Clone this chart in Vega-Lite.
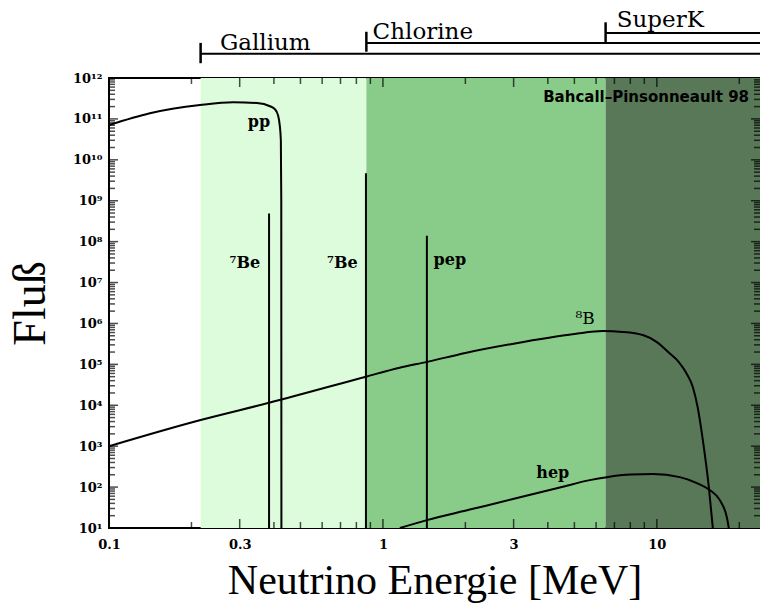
{
  "$schema": "https://vega.github.io/schema/vega-lite/v6.json",
  "width": 651,
  "height": 450,
  "autosize": {"type": "none"},
  "padding": {"left": 109, "top": 78, "right": 0, "bottom": 82},
  "background": "white",
  "config": {
    "view": {"stroke": "black", "strokeWidth": 2},
    "axis": {
      "domain": false,
      "grid": false,
      "ticks": false,
      "tickSize": 0,
      "labelFont": "DejaVu Serif",
      "labelFontWeight": "bold",
      "labelFontSize": 13,
      "labelColor": "black",
      "titleFont": "Liberation Serif",
      "titleFontWeight": "normal",
      "titleColor": "black"
    }
  },
  "datasets": {
    "zones": [
      {"zone": "Gallium", "from": 0.216, "to": 0.87},
      {"zone": "Chlorine", "from": 0.87, "to": 6.5},
      {"zone": "SuperK", "from": 6.5, "to": 23.8}
    ],
    "xticks": [
      {"v": 0.2, "kind": "minor"}, {"v": 0.3, "kind": "major"}, {"v": 0.4, "kind": "minor"}, {"v": 0.5, "kind": "minor"},
      {"v": 0.6, "kind": "minor"}, {"v": 0.7, "kind": "minor"}, {"v": 0.8, "kind": "minor"}, {"v": 0.9, "kind": "minor"},
      {"v": 1, "kind": "major"}, {"v": 2, "kind": "minor"}, {"v": 3, "kind": "major"}, {"v": 4, "kind": "minor"},
      {"v": 5, "kind": "minor"}, {"v": 6, "kind": "minor"}, {"v": 7, "kind": "minor"}, {"v": 8, "kind": "minor"},
      {"v": 9, "kind": "minor"}, {"v": 10, "kind": "major"}, {"v": 20, "kind": "minor"}
    ],
    "yticks": [
      {"v": 20, "kind": "minor"}, {"v": 30, "kind": "minor"}, {"v": 40, "kind": "minor"}, {"v": 50, "kind": "minor"}, {"v": 60, "kind": "minor"}, {"v": 70, "kind": "minor"}, {"v": 80, "kind": "minor"}, {"v": 90, "kind": "minor"},
      {"v": 100, "kind": "major"}, {"v": 200, "kind": "minor"}, {"v": 300, "kind": "minor"}, {"v": 400, "kind": "minor"}, {"v": 500, "kind": "minor"}, {"v": 600, "kind": "minor"}, {"v": 700, "kind": "minor"}, {"v": 800, "kind": "minor"}, {"v": 900, "kind": "minor"},
      {"v": 1e3, "kind": "major"}, {"v": 2e3, "kind": "minor"}, {"v": 3e3, "kind": "minor"}, {"v": 4e3, "kind": "minor"}, {"v": 5e3, "kind": "minor"}, {"v": 6e3, "kind": "minor"}, {"v": 7e3, "kind": "minor"}, {"v": 8e3, "kind": "minor"}, {"v": 9e3, "kind": "minor"},
      {"v": 1e4, "kind": "major"}, {"v": 2e4, "kind": "minor"}, {"v": 3e4, "kind": "minor"}, {"v": 4e4, "kind": "minor"}, {"v": 5e4, "kind": "minor"}, {"v": 6e4, "kind": "minor"}, {"v": 7e4, "kind": "minor"}, {"v": 8e4, "kind": "minor"}, {"v": 9e4, "kind": "minor"},
      {"v": 1e5, "kind": "major"}, {"v": 2e5, "kind": "minor"}, {"v": 3e5, "kind": "minor"}, {"v": 4e5, "kind": "minor"}, {"v": 5e5, "kind": "minor"}, {"v": 6e5, "kind": "minor"}, {"v": 7e5, "kind": "minor"}, {"v": 8e5, "kind": "minor"}, {"v": 9e5, "kind": "minor"},
      {"v": 1e6, "kind": "major"}, {"v": 2e6, "kind": "minor"}, {"v": 3e6, "kind": "minor"}, {"v": 4e6, "kind": "minor"}, {"v": 5e6, "kind": "minor"}, {"v": 6e6, "kind": "minor"}, {"v": 7e6, "kind": "minor"}, {"v": 8e6, "kind": "minor"}, {"v": 9e6, "kind": "minor"},
      {"v": 1e7, "kind": "major"}, {"v": 2e7, "kind": "minor"}, {"v": 3e7, "kind": "minor"}, {"v": 4e7, "kind": "minor"}, {"v": 5e7, "kind": "minor"}, {"v": 6e7, "kind": "minor"}, {"v": 7e7, "kind": "minor"}, {"v": 8e7, "kind": "minor"}, {"v": 9e7, "kind": "minor"},
      {"v": 1e8, "kind": "major"}, {"v": 2e8, "kind": "minor"}, {"v": 3e8, "kind": "minor"}, {"v": 4e8, "kind": "minor"}, {"v": 5e8, "kind": "minor"}, {"v": 6e8, "kind": "minor"}, {"v": 7e8, "kind": "minor"}, {"v": 8e8, "kind": "minor"}, {"v": 9e8, "kind": "minor"},
      {"v": 1e9, "kind": "major"}, {"v": 2e9, "kind": "minor"}, {"v": 3e9, "kind": "minor"}, {"v": 4e9, "kind": "minor"}, {"v": 5e9, "kind": "minor"}, {"v": 6e9, "kind": "minor"}, {"v": 7e9, "kind": "minor"}, {"v": 8e9, "kind": "minor"}, {"v": 9e9, "kind": "minor"},
      {"v": 1e10, "kind": "major"}, {"v": 2e10, "kind": "minor"}, {"v": 3e10, "kind": "minor"}, {"v": 4e10, "kind": "minor"}, {"v": 5e10, "kind": "minor"}, {"v": 6e10, "kind": "minor"}, {"v": 7e10, "kind": "minor"}, {"v": 8e10, "kind": "minor"}, {"v": 9e10, "kind": "minor"},
      {"v": 1e11, "kind": "major"}, {"v": 2e11, "kind": "minor"}, {"v": 3e11, "kind": "minor"}, {"v": 4e11, "kind": "minor"}, {"v": 5e11, "kind": "minor"}, {"v": 6e11, "kind": "minor"}, {"v": 7e11, "kind": "minor"}, {"v": 8e11, "kind": "minor"}, {"v": 9e11, "kind": "minor"}
    ],
    "curves": [
      {"src": "pp", "E": 0.1, "flux": 7.08e10},
      {"src": "pp", "E": 0.141, "flux": 1.38e11},
      {"src": "pp", "E": 0.215, "flux": 2.19e11},
      {"src": "pp", "E": 0.284, "flux": 2.57e11},
      {"src": "pp", "E": 0.347, "flux": 2.45e11},
      {"src": "pp", "E": 0.387, "flux": 2.04e11},
      {"src": "pp", "E": 0.403, "flux": 1.74e11},
      {"src": "pp", "E": 0.414, "flux": 1.23e11},
      {"src": "pp", "E": 0.42, "flux": 7.08e10},
      {"src": "pp", "E": 0.424, "flux": 3.0e10},
      {"src": "pp", "E": 0.4255, "flux": 1e9},
      {"src": "pp", "E": 0.426, "flux": 10},
      {"src": "8B", "E": 0.1, "flux": 1.0e3},
      {"src": "8B", "E": 0.216, "flux": 4.37e3},
      {"src": "8B", "E": 0.384, "flux": 1.15e4},
      {"src": "8B", "E": 0.867, "flux": 5.0e4},
      {"src": "8B", "E": 1.15, "flux": 8.3e4},
      {"src": "8B", "E": 1.45, "flux": 1.15e5},
      {"src": "8B", "E": 2.0, "flux": 1.9e5},
      {"src": "8B", "E": 3.0, "flux": 3.2e5},
      {"src": "8B", "E": 5.0, "flux": 5.5e5},
      {"src": "8B", "E": 6.35, "flux": 6.5e5},
      {"src": "8B", "E": 7.5, "flux": 6.2e5},
      {"src": "8B", "E": 8.89, "flux": 5.2e5},
      {"src": "8B", "E": 10.0, "flux": 3.5e5},
      {"src": "8B", "E": 11.1, "flux": 1.89e5},
      {"src": "8B", "E": 12.03, "flux": 1.14e5},
      {"src": "8B", "E": 12.87, "flux": 5.8e4},
      {"src": "8B", "E": 13.53, "flux": 2.79e4},
      {"src": "8B", "E": 14.11, "flux": 8.55e3},
      {"src": "8B", "E": 14.72, "flux": 1.41e3},
      {"src": "8B", "E": 15.48, "flux": 100},
      {"src": "8B", "E": 16.01, "flux": 10},
      {"src": "hep", "E": 1.153, "flux": 10},
      {"src": "hep", "E": 1.447, "flux": 15.6},
      {"src": "hep", "E": 2.077, "flux": 28.2},
      {"src": "hep", "E": 2.982, "flux": 50.9},
      {"src": "hep", "E": 4.426, "flux": 97.7},
      {"src": "hep", "E": 5.69, "flux": 148},
      {"src": "hep", "E": 6.57, "flux": 175},
      {"src": "hep", "E": 8.04, "flux": 202},
      {"src": "hep", "E": 9.67, "flux": 208},
      {"src": "hep", "E": 12.13, "flux": 175},
      {"src": "hep", "E": 14.0, "flux": 125},
      {"src": "hep", "E": 15.6, "flux": 84.5},
      {"src": "hep", "E": 16.98, "flux": 48},
      {"src": "hep", "E": 18.0, "flux": 18.5},
      {"src": "hep", "E": 18.31, "flux": 10}
    ],
    "lines": [
      {"src": "7Be 0.38", "E": 0.384, "lo": 10, "hi": 4.9e8},
      {"src": "7Be 0.86", "E": 0.867, "lo": 10, "hi": 4.7e9},
      {"src": "pep", "E": 1.447, "lo": 10, "hi": 1.4e8}
    ],
    "boldLabels": [
      {"text": "pp", "E": 0.353, "flux": 8.3e10},
      {"text": "⁷Be", "E": 0.313, "flux": 2.95e7},
      {"text": "⁷Be", "E": 0.711, "flux": 2.95e7},
      {"text": "pep", "E": 1.756, "flux": 3.5e7},
      {"text": "hep", "E": 4.17, "flux": 220}
    ],
    "plainLabels": [
      {"text": "⁸B", "E": 5.47, "flux": 1.32e6}
    ],
    "credit": [
      {"text": "Bahcall–Pinsonneault 98", "E": 21.7, "flux": 3.4e11}
    ],
    "brackets": [
      {"name": "Gallium", "start": 0.216, "end": 23.8, "line": 3.9e12, "lo": 2.3e12, "hi": 7.2e12, "labelE": 0.254, "labelY": 7.2e12},
      {"name": "Chlorine", "start": 0.87, "end": 23.8, "line": 7.2e12, "lo": 4.4e12, "hi": 1.35e13, "labelE": 0.917, "labelY": 1.35e13},
      {"name": "SuperK", "start": 6.5, "end": 23.8, "line": 1.26e13, "lo": 7.6e12, "hi": 2.3e13, "labelE": 7.14, "labelY": 2.6e13}
    ]
  },
  "layer": [
    {
      "data": {"name": "zones"},
      "mark": {"type": "rect"},
      "encoding": {
        "x": {
          "field": "from", "type": "quantitative",
          "scale": {"type": "log", "domain": [0.1, 23.8], "nice": false, "zero": false},
          "axis": {
            "orient": "bottom",
            "title": "Neutrino Energie [MeV]",
            "titleFontSize": 42,
            "titleFontWeight": "normal",
            "titlePadding": 9,
            "values": [0.1, 0.3, 1, 3, 10],
            "format": "~g",
            "labelPadding": 10,
            "labelFlush": false,
            "labelOverlap": false
          }
        },
        "x2": {"field": "to"},
        "color": {
          "field": "zone", "type": "nominal",
          "scale": {"domain": ["Gallium", "Chlorine", "SuperK"], "range": ["#dcfcdc", "#89cc89", "#587858"]},
          "legend": null
        }
      }
    },
    {
      "data": {"name": "lines"},
      "mark": {"type": "rule", "color": "black", "strokeWidth": 2},
      "encoding": {
        "x": {"field": "E", "type": "quantitative"},
        "y": {
          "field": "lo", "type": "quantitative",
          "scale": {"type": "log", "domain": [10, 1e12], "nice": false, "zero": false},
          "axis": {
            "orient": "left",
            "title": "Fluß",
            "titleFontSize": 46,
            "titleFontWeight": "normal",
            "titlePadding": 18,
            "values": [10, 100, 1e3, 1e4, 1e5, 1e6, 1e7, 1e8, 1e9, 1e10, 1e11, 1e12],
            "labelExpr": "['10⁰','10¹','10²','10³','10⁴','10⁵','10⁶','10⁷','10⁸','10⁹','10¹⁰','10¹¹','10¹²'][round(log(datum.value)/LN10)]",
            "labelPadding": 7,
            "labelOverlap": false,
            "labelFlush": false
          }
        },
        "y2": {"field": "hi"}
      }
    },
    {
      "data": {"name": "curves"},
      "mark": {"type": "line", "color": "black", "strokeWidth": 2, "interpolate": "monotone"},
      "encoding": {
        "x": {"field": "E", "type": "quantitative"},
        "y": {"field": "flux", "type": "quantitative"},
        "detail": {"field": "src", "type": "nominal"}
      }
    },
    {
      "data": {"name": "xticks"},
      "mark": {"type": "tick", "orient": "vertical", "color": "black", "thickness": 1.5, "clip": true},
      "encoding": {
        "x": {"field": "v", "type": "quantitative"},
        "y": {"datum": 10, "type": "quantitative"},
        "size": {"field": "kind", "type": "nominal", "scale": {"domain": ["major", "minor"], "range": [18, 12]}, "legend": null}
      }
    },
    {
      "data": {"name": "xticks"},
      "mark": {"type": "tick", "orient": "vertical", "color": "black", "thickness": 1.5, "clip": true},
      "encoding": {
        "x": {"field": "v", "type": "quantitative"},
        "y": {"datum": 1e12, "type": "quantitative"},
        "size": {"field": "kind", "type": "nominal", "scale": {"domain": ["major", "minor"], "range": [18, 12]}, "legend": null}
      }
    },
    {
      "data": {"name": "yticks"},
      "mark": {"type": "tick", "orient": "horizontal", "color": "black", "thickness": 1.5, "clip": true},
      "encoding": {
        "y": {"field": "v", "type": "quantitative"},
        "x": {"datum": 0.1, "type": "quantitative"},
        "size": {"field": "kind", "type": "nominal", "scale": {"domain": ["major", "minor"], "range": [18, 10]}, "legend": null}
      }
    },
    {
      "data": {"name": "yticks"},
      "mark": {"type": "tick", "orient": "horizontal", "color": "black", "thickness": 1.5, "clip": true},
      "encoding": {
        "y": {"field": "v", "type": "quantitative"},
        "x": {"datum": 23.8, "type": "quantitative"},
        "size": {"field": "kind", "type": "nominal", "scale": {"domain": ["major", "minor"], "range": [18, 10]}, "legend": null}
      }
    },
    {
      "data": {"name": "boldLabels"},
      "mark": {"type": "text", "font": "DejaVu Serif", "fontWeight": "bold", "fontSize": 16, "color": "black", "align": "center", "baseline": "middle"},
      "encoding": {
        "x": {"field": "E", "type": "quantitative"},
        "y": {"field": "flux", "type": "quantitative"},
        "text": {"field": "text"}
      }
    },
    {
      "data": {"name": "plainLabels"},
      "mark": {"type": "text", "font": "DejaVu Serif", "fontSize": 17, "color": "black", "align": "center", "baseline": "middle"},
      "encoding": {
        "x": {"field": "E", "type": "quantitative"},
        "y": {"field": "flux", "type": "quantitative"},
        "text": {"field": "text"}
      }
    },
    {
      "data": {"name": "credit"},
      "mark": {"type": "text", "font": "DejaVu Sans", "fontWeight": "bold", "fontSize": 15, "color": "black", "align": "right", "baseline": "middle"},
      "encoding": {
        "x": {"field": "E", "type": "quantitative"},
        "y": {"field": "flux", "type": "quantitative"},
        "text": {"field": "text"}
      }
    },
    {
      "data": {"name": "brackets"},
      "mark": {"type": "rule", "color": "black", "strokeWidth": 2, "clip": false},
      "encoding": {
        "x": {"field": "start", "type": "quantitative"},
        "x2": {"field": "end"},
        "y": {"field": "line", "type": "quantitative"}
      }
    },
    {
      "data": {"name": "brackets"},
      "mark": {"type": "rule", "color": "black", "strokeWidth": 2.5, "clip": false},
      "encoding": {
        "x": {"field": "start", "type": "quantitative"},
        "y": {"field": "lo", "type": "quantitative"},
        "y2": {"field": "hi"}
      }
    },
    {
      "data": {"name": "brackets"},
      "mark": {"type": "text", "font": "DejaVu Serif", "fontSize": 23, "color": "black", "align": "left", "baseline": "middle", "clip": false},
      "encoding": {
        "x": {"field": "labelE", "type": "quantitative"},
        "y": {"field": "labelY", "type": "quantitative"},
        "text": {"field": "name"}
      }
    }
  ]
}
